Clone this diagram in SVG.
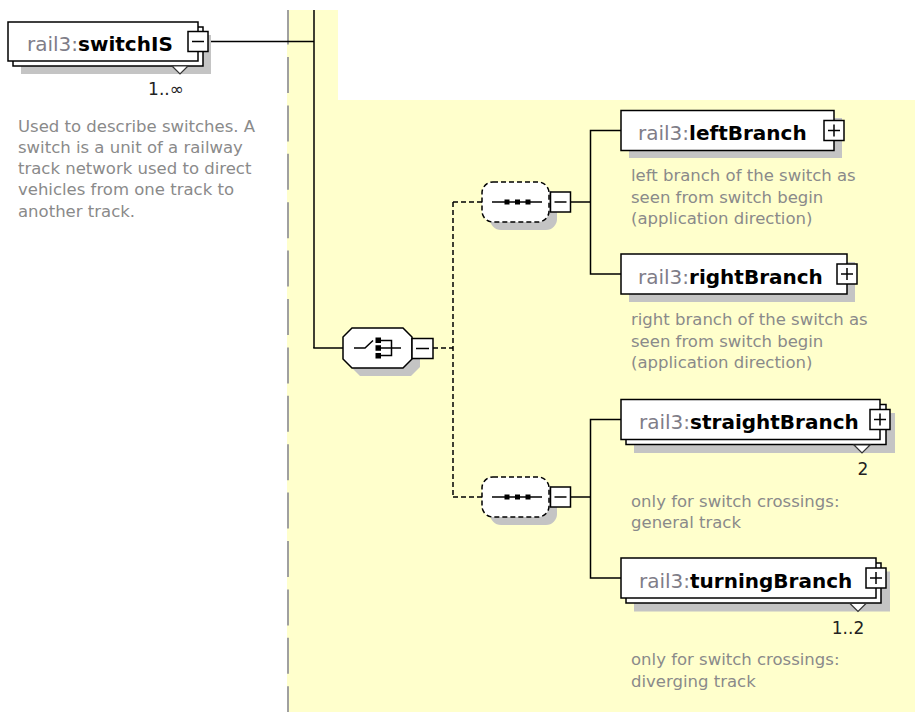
<svg xmlns="http://www.w3.org/2000/svg" width="915" height="712" viewBox="0 0 915 712">
<defs>
<style>
.bg{fill:#FFFFCC}
.sh{fill:#C4C4C4}
.bx{fill:#fff;stroke:#000;stroke-width:1.5}
.ln{fill:none;stroke:#000;stroke-width:1.5}
.dl{fill:none;stroke:#000;stroke-width:1.5;stroke-dasharray:5 3}
.sb{fill:#fff;stroke:#000;stroke-width:1.5;stroke-dasharray:5 3}
.sq{fill:#000}
.nm{font-family:"DejaVu Sans",Verdana,sans-serif;font-size:20px}
.pf{fill:#7f7d88}
.nb{font-weight:bold;fill:#000}
.ds{font-family:"DejaVu Sans",Verdana,sans-serif;font-size:16.5px;fill:#8a8a8a}
.oc{font-family:"DejaVu Sans",Verdana,sans-serif;font-size:17px;fill:#222;text-anchor:middle}
.dm{fill:#fff;stroke:#333;stroke-width:1.2}
</style>
</defs>
<rect x="0" y="0" width="915" height="712" fill="#fff"/>
<polygon class="bg" points="287,10 338,10 338,100 915,100 915,712 287,712"/>
<line x1="288" y1="10" x2="288" y2="712" stroke="#a0a0a0" stroke-width="2" stroke-dasharray="36 12.4" stroke-dashoffset="1.4"/>

<g id="connectors">
<line class="ln" x1="208" y1="41.5" x2="314" y2="41.5"/>
<line class="ln" x1="314" y1="10" x2="314" y2="348"/>
<line class="ln" x1="313.25" y1="348" x2="343" y2="348"/>
<line class="dl" x1="433" y1="348" x2="453" y2="348"/>
<line class="dl" x1="453" y1="202" x2="453" y2="497"/>
<line class="dl" x1="453" y1="202" x2="482" y2="202"/>
<line class="dl" x1="453" y1="497" x2="482" y2="497"/>
<line class="ln" x1="570.5" y1="202" x2="590.5" y2="202"/>
<polyline class="ln" points="621,130.5 590.5,130.5 590.5,274 621,274"/>
<line class="ln" x1="570.5" y1="497" x2="590.5" y2="497"/>
<polyline class="ln" points="621,419.5 590.5,419.5 590.5,578 621,578"/>
</g>

<g id="switchIS">
<rect class="sh" x="21" y="35" width="190" height="39"/>
<rect class="bx" x="13" y="27" width="190" height="39"/>
<rect class="bx" x="8" y="22" width="190" height="39"/>
<polygon class="dm" points="172,66 180,74 188,66"/>
<text class="nm" x="27" y="51"><tspan class="pf">rail3:</tspan><tspan class="nb">switchIS</tspan></text>
<rect class="bx" x="188" y="31.5" width="20" height="20"/>
<line class="ln" x1="192" y1="41.5" x2="204" y2="41.5"/>
<text class="oc" x="166" y="95">1..∞</text>
<text class="ds" x="18" y="131.5">Used to describe switches. A</text>
<text class="ds" x="18" y="152.75">switch is a unit of a railway</text>
<text class="ds" x="18" y="174">track network used to direct</text>
<text class="ds" x="18" y="195.25">vehicles from one track to</text>
<text class="ds" x="18" y="216.5">another track.</text>
</g>

<g id="choice">
<polygon class="sh" points="360,336 411,336 420,345 420,367 411,376 360,376 351,367 351,345"/>
<polygon class="bx" points="352,328 403,328 412,337 412,359 403,368 352,368 343,359 343,337"/>
<polyline class="ln" points="354,348 365,348 373,340.5"/>
<rect class="sq" x="375.5" y="337.5" width="5.5" height="5.5"/>
<rect class="sq" x="375.5" y="345.25" width="5.5" height="5.5"/>
<rect class="sq" x="375.5" y="353" width="5.5" height="5.5"/>
<polyline class="ln" points="381,340.5 391.5,340.5 391.5,355.5 381,355.5"/>
<line class="ln" x1="381" y1="348" x2="401" y2="348"/>
<rect class="bx" x="412" y="338.5" width="21" height="20"/>
<line class="ln" x1="416" y1="348.5" x2="429" y2="348.5"/>
</g>

<g id="sequence1">
<rect class="sh" x="490" y="190" width="67" height="40" rx="11"/>
<rect class="sb" x="482" y="182" width="67" height="40" rx="11"/>
<line class="ln" x1="492" y1="202" x2="542" y2="202"/>
<rect class="sq" x="504.5" y="199.5" width="5" height="5"/>
<rect class="sq" x="515" y="199.5" width="5" height="5"/>
<rect class="sq" x="525.5" y="199.5" width="5" height="5"/>
<rect class="bx" x="550.5" y="192" width="20" height="20"/>
<line class="ln" x1="554.5" y1="202" x2="566.5" y2="202"/>
</g>

<g id="sequence2">
<rect class="sh" x="490" y="485" width="67" height="40" rx="11"/>
<rect class="sb" x="482" y="477" width="67" height="40" rx="11"/>
<line class="ln" x1="492" y1="497" x2="542" y2="497"/>
<rect class="sq" x="504.5" y="494.5" width="5" height="5"/>
<rect class="sq" x="515" y="494.5" width="5" height="5"/>
<rect class="sq" x="525.5" y="494.5" width="5" height="5"/>
<rect class="bx" x="550.5" y="487" width="20" height="20"/>
<line class="ln" x1="554.5" y1="497" x2="566.5" y2="497"/>
</g>

<g id="leftBranch">
<rect class="sh" x="629" y="118" width="213" height="40"/>
<rect class="bx" x="621" y="110.5" width="213" height="40"/>
<text class="nm" x="638" y="140"><tspan class="pf">rail3:</tspan><tspan class="nb">leftBranch</tspan></text>
<rect class="bx" x="824" y="120.5" width="20" height="20"/>
<line class="ln" x1="828" y1="130.5" x2="840" y2="130.5"/>
<line class="ln" x1="834" y1="124.5" x2="834" y2="136.5"/>
<text class="ds" x="631" y="181">left branch of the switch as</text>
<text class="ds" x="631" y="202.5">seen from switch begin</text>
<text class="ds" x="631" y="224">(application direction)</text>
</g>

<g id="rightBranch">
<rect class="sh" x="629" y="262" width="226" height="40"/>
<rect class="bx" x="621" y="254" width="226" height="40"/>
<text class="nm" x="638" y="283.5"><tspan class="pf">rail3:</tspan><tspan class="nb">rightBranch</tspan></text>
<rect class="bx" x="837" y="264" width="20" height="20"/>
<line class="ln" x1="841" y1="274" x2="853" y2="274"/>
<line class="ln" x1="847" y1="268" x2="847" y2="280"/>
<text class="ds" x="631" y="325">right branch of the switch as</text>
<text class="ds" x="631" y="346.5">seen from switch begin</text>
<text class="ds" x="631" y="368">(application direction)</text>
</g>

<g id="straightBranch">
<rect class="sh" x="634" y="413" width="261" height="40"/>
<rect class="bx" x="626" y="404.5" width="260" height="40"/>
<rect class="bx" x="621" y="399.5" width="259" height="40"/>
<polygon class="dm" points="854,445 862,453 870,445"/>
<text class="nm" x="639" y="429"><tspan class="pf">rail3:</tspan><tspan class="nb">straightBranch</tspan></text>
<rect class="bx" x="870" y="409.5" width="20" height="20"/>
<line class="ln" x1="874" y1="419.5" x2="886" y2="419.5"/>
<line class="ln" x1="880" y1="413.5" x2="880" y2="425.5"/>
<text class="oc" x="863" y="475">2</text>
<text class="ds" x="631" y="506.5">only for switch crossings:</text>
<text class="ds" x="631" y="528">general track</text>
</g>

<g id="turningBranch">
<rect class="sh" x="634" y="571.5" width="256" height="40"/>
<rect class="bx" x="626" y="563" width="255" height="40"/>
<rect class="bx" x="621" y="558" width="255" height="40"/>
<polygon class="dm" points="850,603.5 858,611.5 866,603.5"/>
<text class="nm" x="639" y="587.5"><tspan class="pf">rail3:</tspan><tspan class="nb">turningBranch</tspan></text>
<rect class="bx" x="866" y="568" width="20" height="20"/>
<line class="ln" x1="870" y1="578" x2="882" y2="578"/>
<line class="ln" x1="876" y1="572" x2="876" y2="584"/>
<text class="oc" x="848" y="634">1..2</text>
<text class="ds" x="631" y="665">only for switch crossings:</text>
<text class="ds" x="631" y="686.5">diverging track</text>
</g>
</svg>
